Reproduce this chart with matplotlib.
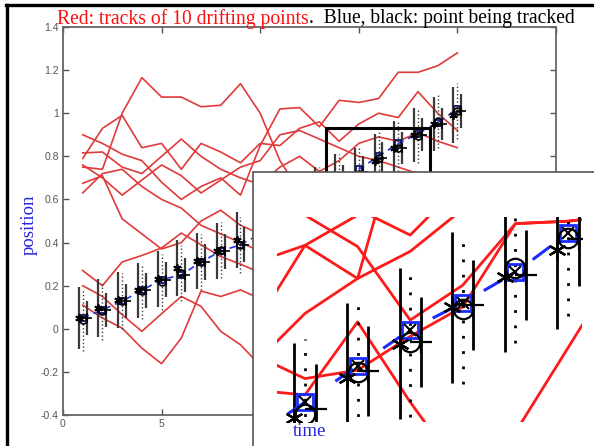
import numpy as np
import matplotlib
matplotlib.use("Agg")
import matplotlib.pyplot as plt
from matplotlib.patches import Rectangle
from matplotlib.lines import Line2D

W, H = 594, 446

# time steps and the ten drifting tracks
steps = np.arange(1, 21)
track_1 = [0.75, 0.74, 1.00, 1.165, 1.075, 1.075, 1.03, 1.037, 1.137, 1.00, 0.78, 0.64, 0.58, 0.52, 0.47, 0.43, 0.40, 0.37, 0.33, 0.30]
track_2 = [0.79, 0.93, 0.99, 0.84, 0.86, 0.74, 0.86, 0.82, 0.77, 0.86, 0.85, 0.93, 0.96, 0.87, 0.95, 1.00, 0.98, 1.10, 1.00, 0.92]
track_3 = [0.90, 0.86, 0.81, 0.78, 0.68, 0.60, 0.66, 0.70, 0.62, 0.85, 1.02, 1.026, 0.937, 1.06, 1.05, 1.068, 1.19, 1.19, 1.22, 1.28]
track_4 = [0.816, 0.82, 0.75, 0.72, 0.80, 0.88, 0.80, 0.74, 0.70, 0.67, 0.75, 0.80, 0.73, 0.78, 0.86, 0.89, 0.87, 0.91, 0.87, 0.84]
track_5 = [0.76, 0.70, 0.62, 0.69, 0.76, 0.71, 0.63, 0.69, 0.75, 0.78, 0.90, 0.92, 0.88, 0.84, 0.80, 0.78, 0.75, 0.72, 0.70, 0.66]
track_6 = [0.675, 0.71, 0.51, 0.44, 0.37, 0.40, 0.50, 0.55, 0.48, 0.44, 0.40, 0.38, 0.42, 0.46, 0.44, 0.40, 0.38, 0.36, 0.33, 0.30]
track_7 = [0.63, 0.72, 0.74, 0.66, 0.60, 0.56, 0.48, 0.44, 0.40, 0.36, 0.33, 0.30, 0.27, 0.25, 0.26, 0.23, 0.20, 0.17, 0.14, 0.12]
track_8 = [0.27, 0.20, 0.31, 0.34, 0.375, 0.444, 0.39, 0.335, 0.30, 0.26, 0.22, 0.18, 0.15, 0.12, 0.10, 0.08, 0.05, 0.02, 0.00, -0.03]
track_9 = [0.11, 0.05, 0.003, -0.09, -0.162, -0.043, 0.175, 0.15, 0.18, 0.14, 0.12, 0.10, 0.06, 0.04, 0.00, -0.04, -0.06, -0.10, -0.14, -0.18]
track_10 = [0.20, 0.15, 0.065, -0.012, 0.07, 0.15, 0.104, -0.012, -0.074, -0.17, -0.22, -0.25, -0.28, -0.30, -0.32, -0.33, -0.35, -0.36, -0.37, -0.38]
tracks = [track_1, track_2, track_3, track_4, track_5, track_6, track_7, track_8, track_9, track_10]

# estimates of the tracked point
est_square = [0.05, 0.088, 0.128, 0.178, 0.228, 0.25, 0.31, 0.36, 0.39, 0.44, 0.50, 0.56, 0.62, 0.68, 0.74, 0.80, 0.86, 0.905, 0.955, 1.02]
est_circle = [0.04, 0.083, 0.128, 0.173, 0.218, 0.26, 0.31, 0.365, 0.39, 0.44, 0.50, 0.56, 0.62, 0.68, 0.72, 0.79, 0.84, 0.895, 0.963, 1.012]
est_star = [0.05, 0.098, 0.133, 0.178, 0.233, 0.28, 0.315, 0.36, 0.41, 0.44, 0.50, 0.56, 0.62, 0.68, 0.713, 0.78, 0.837, 0.897, 0.948, 0.992]
est_plus = [0.05, 0.088, 0.128, 0.178, 0.228, 0.25, 0.31, 0.36, 0.39, 0.44, 0.50, 0.56, 0.62, 0.68, 0.728, 0.792, 0.84, 0.901, 0.951, 1.01]
err_wide = [0.143, 0.135, 0.13, 0.127, 0.13, 0.13, 0.13, 0.13, 0.13, 0.13, 0.13, 0.13, 0.13, 0.13, 0.125, 0.125, 0.125, 0.125, 0.125, 0.13]
err_narrow = [0.077, 0.078, 0.08, 0.08, 0.08, 0.08, 0.082, 0.082, 0.08, 0.08, 0.08, 0.08, 0.08, 0.08, 0.075, 0.075, 0.075, 0.075, 0.075, 0.077]

# close-up tracks around the box, steps 14..21
zoom_steps = np.arange(14, 22)
zoom_1 = [0.97, 1.00, 1.05, 1.09, 1.12, 1.15, 1.17, 1.20]
zoom_2 = [1.10, 1.05, 0.998, 0.876, 0.934, 1.036, 1.04, 1.05]
zoom_3 = [0.86, 1.00, 0.945, 1.25, 1.30, 1.30, 1.30, 1.30]
zoom_4 = [0.80, 0.887, 0.945, 0.99, 1.06, 1.08, 1.10, 1.12]
zoom_5 = [0.82, 0.779, 0.793, 0.849, 0.898, 1.036, 1.04, 1.05]
zoom_6 = [0.76, 0.752, 0.873, 0.74, 0.62, 0.58, 0.55, 0.52]
zoom_7 = [0.50, 0.52, 0.55, 0.58, 0.62, 0.69, 0.83, 0.97]
zoom_8 = [1.12, 1.09, 1.06, 1.017, 1.105, 1.15, 1.20, 1.20]
zoom_tracks = [zoom_1, zoom_2, zoom_3, zoom_4, zoom_5, zoom_6, zoom_7, zoom_8]

ytick_vals = [-0.4, -0.2, 0, 0.2, 0.4, 0.6, 0.8, 1.0, 1.2, 1.4]
ytick_text = ["-0.4", "-0.2", "0", "0.2", "0.4", "0.6", "0.8", "1", "1.2", "1.4"]

BLUE = "#2222dd"
SERIF = ["Liberation Serif", "DejaVu Serif"]
asterisk = (6, 2, 0)


def draw_estimates(ax, big):
    t = steps
    sq = np.array(est_square)
    ci = np.array(est_circle)
    st = np.array(est_star)
    pl = np.array(est_plus)
    ew = np.array(err_wide)
    en = np.array(err_narrow)
    if big:
        bar_c, bar_lw, dot_ls, dot_lw = "k", 2.0, (0, (1, 4.5)), 2.0
    else:
        bar_c, bar_lw, dot_ls, dot_lw = "#3a3a3a", 1.6, ":", 1.0
    ax.vlines(t - 0.2, st - ew, st + ew, color=bar_c, lw=bar_lw, zorder=3)
    ax.vlines(t, ci - ew, ci + ew, color=bar_c, lw=dot_lw, linestyles=[dot_ls], zorder=3)
    ax.vlines(t + 0.2, pl - en, pl + en, color=bar_c, lw=bar_lw, zorder=3)
    if big:
        ax.plot(t, sq, color="#1a2cff", lw=2.2, dashes=(7, 12), zorder=4)
        ax.plot(t, sq, "s", mfc="none", mec="#1a2cff", ms=12, mew=2, zorder=5)
        ax.plot(t, sq, "x", color="k", ms=8, mew=1.5, zorder=5)
        ax.plot(t, ci, "o", mfc="none", mec="k", ms=14, mew=1.6, zorder=5)
        ax.plot(t - 0.2, st, ls="none", marker=asterisk, color="k", ms=13, mew=1.6, zorder=5)
        ax.plot(t + 0.2, pl, "+", color="k", ms=16, mew=1.6, zorder=5)
    else:
        ax.plot(t, sq, color="#2233dd", lw=1.2, dashes=(4, 3), zorder=4)
        ax.plot(t, sq, "s", mfc="none", mec="#141460", ms=5, mew=1.3, zorder=5)
        ax.plot(t, ci, "o", mfc="none", mec="k", ms=5, mew=1.2, zorder=5)
        ax.plot(t - 0.2, st, ls="none", marker=asterisk, color="k", ms=6, mew=1.3, zorder=5)
        ax.plot(t + 0.2, pl, "+", color="k", ms=7, mew=1.2, zorder=5)


fig = plt.figure(figsize=(W / 100, H / 100), dpi=100)
fig.patch.set_facecolor("white")

# main axes
ax = fig.add_axes([63 / W, 1 - 415 / H, (556 - 63) / W, (415 - 27) / H])
for tr in tracks:
    ax.plot(steps, tr, color="#e03a3a", lw=1.2, zorder=2)
draw_estimates(ax, big=False)
ax.add_patch(Rectangle((13.35, 0.72), 5.27, 0.21, fill=False, ec="k", lw=2.2, zorder=6))
ax.set_xlim(0, 25)
ax.set_ylim(-0.4, 1.4)
ax.set_xticks(range(0, 26, 5))
ax.set_yticks(ytick_vals)
ax.set_yticklabels(ytick_text)
ax.tick_params(direction="in", top=True, right=True, length=4, width=1,
               color="#555555", labelcolor="#555555", labelsize=7.5, pad=3)
for lab in ax.get_xticklabels() + ax.get_yticklabels():
    lab.set_family("Liberation Sans")
for sp in ax.spines.values():
    sp.set_color("#666666")
    sp.set_linewidth(1.3)
ax.set_ylabel("position", color=BLUE, family=SERIF, fontsize=13.5)
ax.yaxis.set_label_coords(-25 / 493, (415 - 225) / 388)

# white panel holding the close-up
fig.add_artist(Rectangle((253 / W, -0.05), 1, (446 - 172) / H + 0.05, transform=fig.transFigure,
                         fc="white", ec="#555555", lw=1.2, zorder=1.5))

axz = fig.add_axes([277 / W, 1 - 422 / H, 305 / W, 205 / H], zorder=2)
for zt in zoom_tracks:
    axz.plot(zoom_steps, zt, color="#ff1a1a", lw=2.0, zorder=2)
draw_estimates(axz, big=True)
axz.set_xlim(14.468, 20.266)
axz.set_ylim(0.707, 1.047)
axz.set_axis_off()

fig.text(310 / W, 1 - 432 / H, "time", color=BLUE, family=SERIF, fontsize=13.5,
         ha="center", va="center", zorder=10)

# title in two colours
r = fig.canvas.get_renderer()
t_red = fig.text(57 / W, 1 - 19 / H, "Red: tracks of 10 drifting points", color="#ff1010",
                 family=SERIF, fontsize=14.1, va="center", zorder=10)
bb = t_red.get_window_extent(renderer=r)
fig.text(bb.x1 / W, 1 - 19 / H, ".  Blue, black: point being tracked", color="k",
         family=SERIF, fontsize=14.1, va="center", zorder=10)

# outer frame
fig.add_artist(Line2D([6 / W, 1], [1 - 5 / H, 1 - 5 / H], transform=fig.transFigure,
                      color="k", lw=2.4, zorder=10))
fig.add_artist(Line2D([7 / W, 7 / W], [0, 1 - 5 / H], transform=fig.transFigure,
                      color="k", lw=2.4, zorder=10))

fig.savefig("out.png", dpi=100)
